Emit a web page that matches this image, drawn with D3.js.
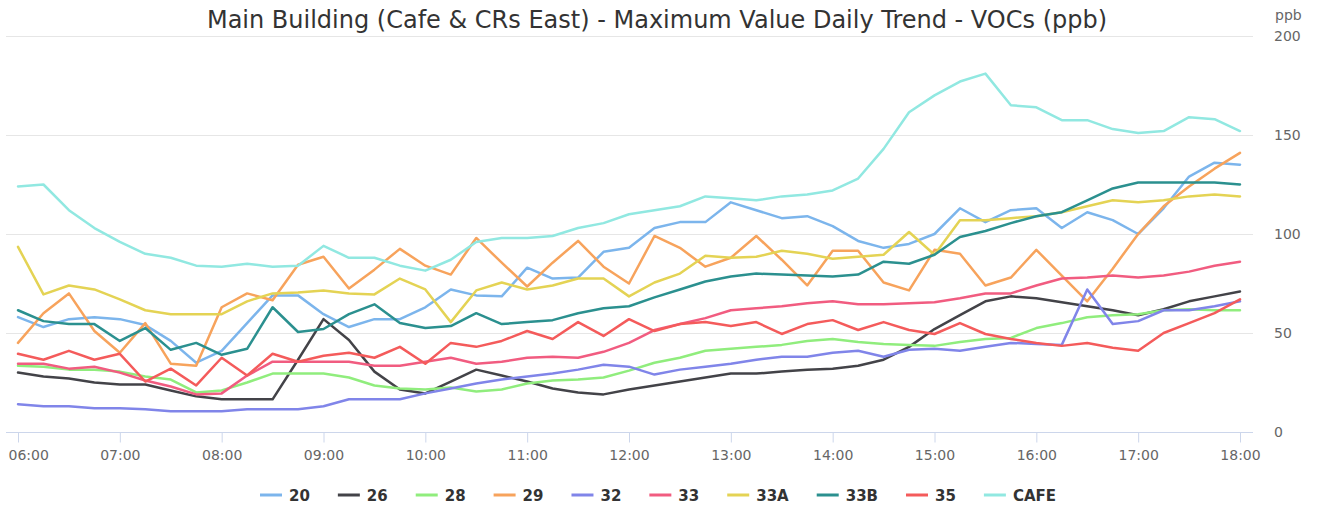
<!DOCTYPE html>
<html>
<head>
<meta charset="utf-8">
<script src="https://cdn.jsdelivr.net/npm/d3@7"></script>
<style>
  body { margin: 0; background: #fff; }
  svg { font-family: "DejaVu Sans", sans-serif; display: block; }
</style>
</head>
<body>
<div id="chart"></div>
<script>
// series names and readings (max VOCs, ppb), one value every 15 min from 06:00 to 18:00
var seriesNames = ["20", "26", "28", "29", "32", "33", "33A", "33B", "35", "CAFE"];
var colors = ["#7cb5ec", "#434348", "#90ed7d", "#f7a35c", "#8085e9", "#f15c80", "#e4d354", "#2b908f", "#f45b5b", "#91e8e1"];

var s20 = [58, 53, 57, 58, 57, 54, 46, 35, 41, 55, 69, 69, 59.5,
  53, 57, 57, 63, 72, 69, 68.5, 83, 77.5, 78, 91, 93,
  103, 106, 106, 116, 112, 108, 109, 104, 96.5, 93, 95, 100,
  113, 106, 112, 113, 103, 111, 107, 100, 113, 129, 136, 135];
var s26 = [30, 28, 27, 25, 24, 24, 21, 18, 16.5, 16.5, 16.5, 36.5, 57,
  46.5, 30.5, 21.5, 19.5, 25.5, 31.5, 28.5, 25.5, 22, 20, 19, 21.5,
  23.5, 25.5, 27.5, 29.5, 29.5, 30.5, 31.5, 32, 33.5, 36.5, 43, 52,
  59, 66, 68.5, 67.5, 65.5, 63.5, 61.5, 59, 62, 66, 68.5, 71];
var s28 = [33.5, 33, 31.5, 31.5, 30.5, 28, 26.5, 20, 21, 25, 29.5, 29.5, 29.5,
  27.5, 23.5, 22, 21.5, 22.5, 20.5, 21.5, 24.5, 26, 26.5, 27.5, 31,
  35, 37.5, 41, 42, 43, 44, 46, 47, 45.5, 44.5, 44, 43.5,
  45.5, 47, 47.5, 52.5, 55, 58, 59, 59.5, 61.5, 62, 61.5, 61.5];
var s29 = [45, 60, 70, 51, 40, 55, 34.5, 33.5, 63, 70, 66.5, 84.5, 88.5,
  72.5, 82, 92.5, 84, 79.5, 98, 85.5, 73.5, 85.5, 96.5, 83.5, 75,
  99, 93, 83.5, 88, 99, 87, 74, 91.5, 91.5, 75.5, 71.5, 92,
  90, 74, 78, 92, 79, 66, 82.5, 100, 114, 124, 133, 141];
var s32 = [14, 13, 13, 12, 12, 11.5, 10.5, 10.5, 10.5, 11.5, 11.5, 11.5, 13,
  16.5, 16.5, 16.5, 19.5, 22, 24.5, 26.5, 28, 29.5, 31.5, 34, 33,
  29, 31.5, 33, 34.5, 36.5, 38, 38, 40, 41, 38, 41.5, 42,
  41, 43, 45, 44.5, 44, 72, 54.5, 56, 61.5, 61.5, 63.5, 66];
var s33 = [34.5, 34.5, 32, 33, 30, 26, 23, 19, 19.5, 28.5, 35.5, 35.5, 35.5,
  35.5, 33.5, 33.5, 35.5, 37.5, 34.5, 35.5, 37.5, 38, 37.5, 40.5, 45,
  51.5, 54.5, 57.5, 61.5, 62.5, 63.5, 65, 66, 64.5, 64.5, 65, 65.5,
  67.5, 70, 70, 74, 77.5, 78, 79, 78, 79, 81, 84, 86];
var s33A = [93.5, 69.5, 74, 72, 67, 61.5, 59.5, 59.5, 59.5, 66, 70, 70.5, 71.5,
  70, 69.5, 77.5, 72, 55.5, 71.5, 75.5, 72, 74, 77.5, 77.5, 68.5,
  75.5, 80, 89, 88, 88.5, 91.5, 90, 87.5, 88.5, 89.5, 101, 89.5,
  107, 107, 108, 109, 111, 114, 117, 116, 117, 119, 120, 119];
var s33B = [61.5, 56, 54.5, 54.5, 46, 52.5, 41.5, 45, 39, 42, 63, 50.5, 52,
  59.5, 64.5, 55, 52.5, 53.5, 60, 54.5, 55.5, 56.5, 60, 62.5, 63.5,
  68, 72, 76, 78.5, 80, 79.5, 79, 78.5, 79.5, 86, 85, 89.5,
  98.5, 101.5, 105.5, 109, 111, 117, 123, 126, 126, 126, 126, 125];
var s35 = [39.5, 36.5, 41, 36.5, 39.5, 25.5, 32, 23.5, 37.5, 28.5, 39.5, 35.5, 38.5,
  40, 37.5, 43, 34.5, 45, 43, 46, 51, 47, 55.5, 48.5, 57,
  51, 54.5, 55.5, 53.5, 55.5, 49.5, 54.5, 56.5, 51.5, 55.5, 51.5, 49.5,
  55, 49.5, 47, 45, 43.5, 45, 42.5, 41, 50, 55, 60, 67];
var sCafe = [124, 125, 112, 103, 96, 90, 88, 84, 83.5, 85, 83.5, 84, 94,
  88, 88, 84, 81.5, 87, 96, 98, 98, 99, 103, 105.5, 110,
  112, 114, 119, 118, 117, 119, 120, 122, 128, 143, 161.5, 170,
  177, 181, 165, 164, 157.5, 157.5, 153, 151, 152, 159, 158, 152];

var seriesValues = [s20, s26, s28, s29, s32, s33, s33A, s33B, s35, sCafe];
var yTicks = [0, 50, 100, 150, 200];

var day0 = new Date(2024, 0, 1, 6, 0);
var day1 = new Date(2024, 0, 1, 18, 0);
var times = d3.timeMinute.every(15).range(day0, new Date(2024, 0, 1, 18, 1));

var width = 1322, height = 509;
var plotLeft = 6, plotRight = 1253, plotTop = 36, plotBottom = 432;

var svg = d3.select("#chart").append("svg")
    .attr("width", width)
    .attr("height", height);

// scales
var x = d3.scaleTime().domain([day0, day1]).range([18, 1240]);
var y = d3.scaleLinear().domain([0, 200]).range([plotBottom, plotTop]);

// title
svg.append("text")
    .attr("x", 657)
    .attr("y", 28)
    .attr("text-anchor", "middle")
    .attr("fill", "#333333")
    .style("font-size", "24px")
    .text("Main Building (Cafe & CRs East) - Maximum Value Daily Trend - VOCs (ppb)");

// grid lines
svg.append("g").selectAll("line")
    .data(yTicks)
  .enter().append("line")
    .attr("x1", plotLeft).attr("x2", plotRight)
    .attr("y1", function(d) { return y(d) + 0.5; })
    .attr("y2", function(d) { return y(d) + 0.5; })
    .attr("stroke", "#e6e6e6")
    .attr("stroke-width", 1);

// y axis labels on the right
svg.append("g").selectAll("text")
    .data(yTicks)
  .enter().append("text")
    .attr("x", 1274)
    .attr("y", function(d) { return y(d) + 5; })
    .attr("fill", "#666666")
    .style("font-size", "14px")
    .text(function(d) { return d; });

svg.append("text")
    .attr("x", 1275)
    .attr("y", 20)
    .attr("fill", "#666666")
    .style("font-size", "14px")
    .text("ppb");

// x axis
var xAxis = svg.append("g")
    .attr("transform", "translate(0," + (plotBottom + 0.5) + ")")
    .call(d3.axisBottom(x)
      .ticks(d3.timeHour.every(1))
      .tickFormat(d3.timeFormat("%H:%M"))
      .tickSize(10)
      .tickPadding(8));
xAxis.select(".domain").remove();
xAxis.selectAll(".tick line").attr("stroke", "#ccd6eb");
xAxis.selectAll(".tick text")
    .attr("fill", "#666666")
    .style("font-size", "14px")
    .style("font-family", "DejaVu Sans, sans-serif");
xAxis.select(".tick text").attr("text-anchor", "start").attr("x", -10);
xAxis.append("line")
    .attr("x1", plotLeft).attr("x2", plotRight)
    .attr("stroke", "#ccd6eb");

// lines
var line = d3.line()
    .x(function(d, i) { return x(times[i]); })
    .y(function(d) { return y(d); });

svg.append("g").selectAll("path")
    .data(seriesValues)
  .enter().append("path")
    .attr("d", line)
    .attr("fill", "none")
    .attr("stroke", function(d, i) { return colors[i]; })
    .attr("stroke-width", 2.5)
    .attr("stroke-linejoin", "round")
    .attr("stroke-linecap", "round");

// legend
var legend = svg.append("g");
var lx = 0;
seriesNames.forEach(function(name, i) {
  var item = legend.append("g").attr("transform", "translate(" + lx + ",0)");
  item.append("line")
      .attr("x1", 0).attr("x2", 22)
      .attr("y1", 0).attr("y2", 0)
      .attr("stroke", colors[i])
      .attr("stroke-width", 3);
  var t = item.append("text")
      .attr("x", 29)
      .attr("y", 5.5)
      .attr("fill", "#333333")
      .style("font-size", "15px")
      .style("font-weight", "bold")
      .text(name);
  lx += 29 + t.node().getComputedTextLength() + 28;
});
var legendWidth = lx - 28;
legend.attr("transform", "translate(" + (658 - legendWidth / 2) + ",495)");
</script>
</body>
</html>
